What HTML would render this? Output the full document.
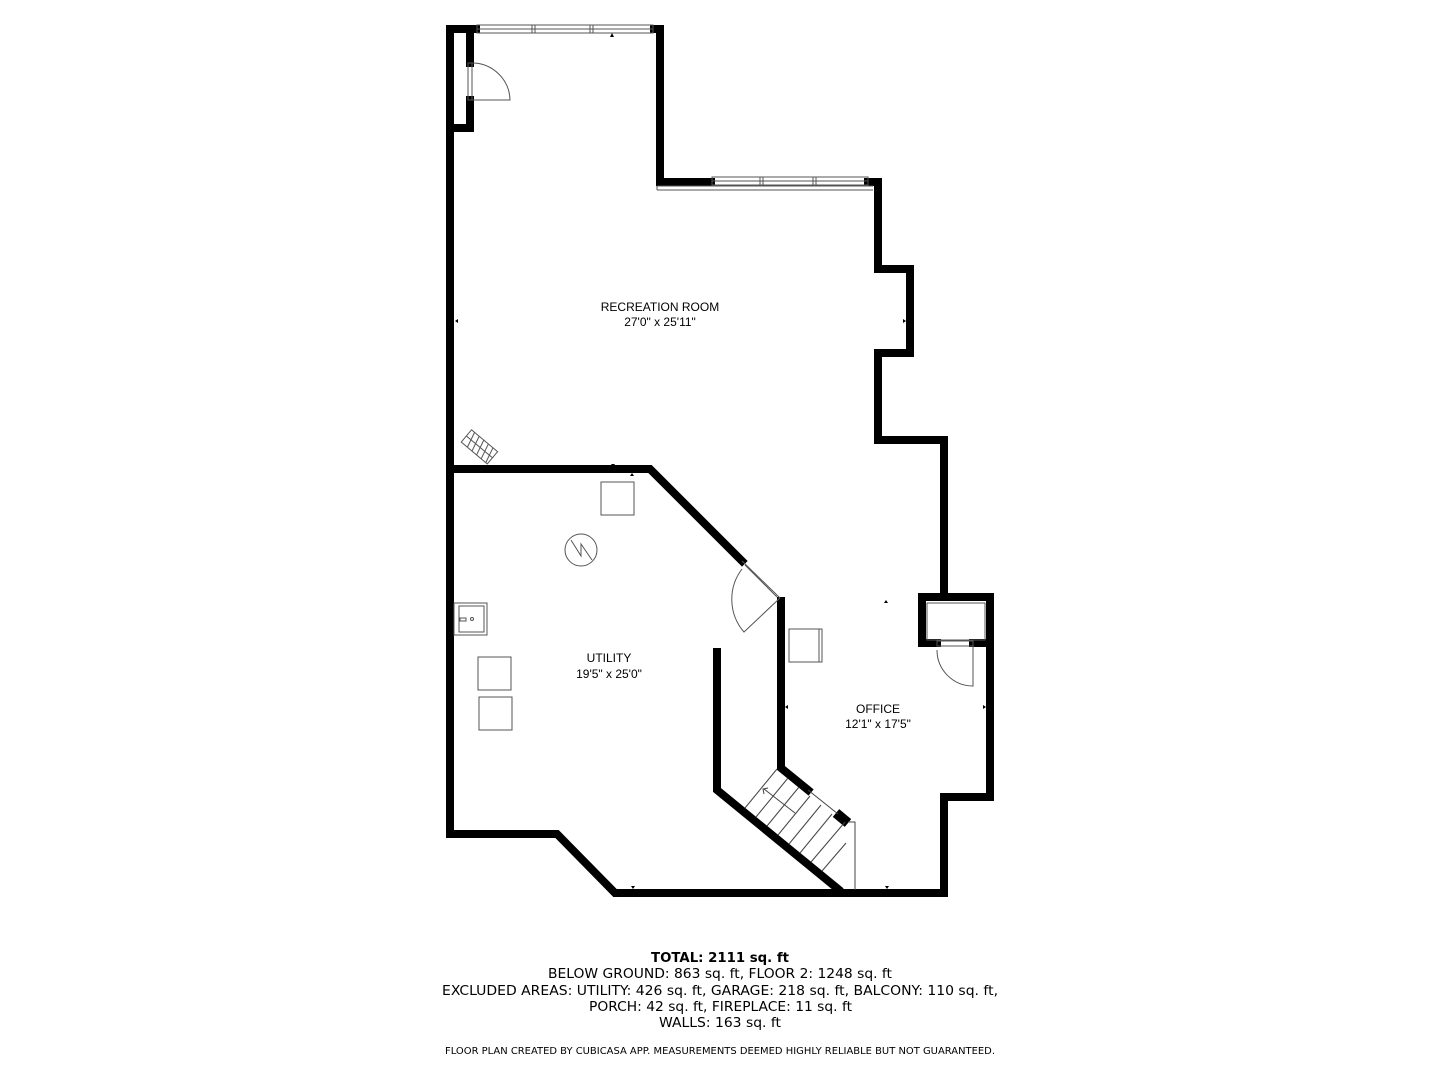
<!DOCTYPE html>
<html><head><meta charset="utf-8"><style>
html,body{margin:0;padding:0;background:#fff;}
svg{display:block;}
text{font-family:"Liberation Sans","DejaVu Sans",sans-serif;fill:#000;}
</style></head><body>
<svg width="1440" height="1080" viewBox="0 0 1440 1080" xmlns="http://www.w3.org/2000/svg">
<g fill="none" stroke="#000" stroke-width="8" stroke-linejoin="miter" stroke-linecap="square">
  <polyline points="450,29 450,834 557,834 615,893 944,893 944,797 990,797 990,597 944,597 944,440 878,440 878,353 910,353 910,269 878,269 878,182 868,182"/>
  <polyline points="711,182 660,182 660,29 654,29"/>
  <polyline points="476,29 450,29"/>
  <polyline points="450,128 470,128 470,100"/>
  <polyline points="470,63 470,33"/>
  <polyline points="454,469 650,469 742,561"/>
  <polyline points="781,601 781,768 808,790"/>
  <polyline points="717,652 717,790 838,889"/>
  <polyline points="944,597 922,597 922,643 937,643"/>
  <polyline points="973,643 990,643"/>
</g>
<g stroke="#000" stroke-width="10" stroke-linecap="butt"><line x1="836" y1="813" x2="848" y2="823"/></g>
<g fill="none" stroke="#555" stroke-width="1">
  <rect x="477" y="25" width="176" height="8"/>
  <line x1="477" y1="29" x2="653" y2="29"/>
  <line x1="532" y1="25" x2="532" y2="33"/><line x1="535" y1="25" x2="535" y2="33"/>
  <line x1="590" y1="25" x2="590" y2="33"/><line x1="593" y1="25" x2="593" y2="33"/>
  <rect x="712" y="177" width="156" height="8"/>
  <line x1="712" y1="181" x2="868" y2="181"/>
  <line x1="760" y1="177" x2="760" y2="185"/><line x1="763" y1="177" x2="763" y2="185"/>
  <line x1="813" y1="177" x2="813" y2="185"/><line x1="816" y1="177" x2="816" y2="185"/>
  <line x1="657" y1="186" x2="873" y2="186"/><line x1="657" y1="186" x2="657" y2="190"/><line x1="657" y1="190" x2="873" y2="190"/>
  <rect x="468" y="63" width="4" height="37"/>
  <path d="M472,63 A38,38 0 0 1 510,100 L472,100"/>
  <path d="M742,561 L780,598 M780,598 L744,632 A50,50 0 0 1 742,569"/>
  <line x1="745" y1="565" x2="777" y2="597"/>
  <rect x="937" y="641" width="36" height="5"/>
  <path d="M973,646 L973,686 A36,36 0 0 1 937,650"/>
  <g stroke="#444">
    <line x1="745" y1="808" x2="777" y2="769"/>
    <line x1="756" y1="817" x2="788" y2="778"/>
    <line x1="767" y1="826" x2="799" y2="787"/>
    <line x1="778" y1="835" x2="810" y2="796"/>
    <line x1="789" y1="844" x2="821" y2="805"/>
    <line x1="800" y1="853" x2="832" y2="814"/>
    <line x1="811" y1="862" x2="845" y2="822"/>
    <line x1="822" y1="871" x2="846" y2="843"/>
    <line x1="808" y1="790" x2="838" y2="814"/>
    <polyline points="848,822 855,822 855,890"/>
    <line x1="764" y1="789" x2="795" y2="813"/>
    <polyline points="768,788 763,789 764,794"/>
  </g>
  <g transform="rotate(40 478 447)">
    <rect x="462" y="438" width="34" height="16"/>
    <line x1="462" y1="446" x2="496" y2="446"/>
    <line x1="466" y1="438" x2="470" y2="454"/><line x1="472" y1="438" x2="476" y2="454"/><line x1="478" y1="438" x2="482" y2="454"/><line x1="484" y1="438" x2="488" y2="454"/><line x1="490" y1="438" x2="494" y2="454"/>
  </g>
  <rect x="601" y="482" width="33" height="33"/>
  <circle cx="581" cy="550" r="16"/>
  <polyline points="571,540 581,556 581,544 592,560"/>
  <rect x="454" y="603" width="33" height="32"/>
  <rect x="459" y="606" width="25" height="26"/>
  <rect x="460" y="618" width="6" height="3"/>
  <circle cx="472" cy="619" r="1.5"/>
  <rect x="478" y="657" width="33" height="33"/>
  <rect x="479" y="697" width="33" height="33"/>
  <rect x="789" y="629" width="33" height="33"/>
  <line x1="819" y1="629" x2="819" y2="662"/>
  <rect x="927" y="603" width="58" height="37"/>
</g>
<g fill="#000">
  <polygon points="612,33 614,37 610,37"/>
  <polygon points="455,321 458,319 458,323"/>
  <polygon points="906,321 903,319 903,323"/>
  <polygon points="886,600 888,603 884,603"/>
  <polygon points="777,625 780,623 780,627"/>
  <polygon points="785,707 788,705 788,709"/>
  <polygon points="986,707 983,705 983,709"/>
  <polygon points="887,889 889,886 885,886"/>
  <polygon points="633,889 635,886 631,886"/>
  <polygon points="613,467 615,464 611,464"/>
  <polygon points="632,473 634,476 630,476"/>
</g>
<g font-size="12" text-anchor="middle">
  <text x="660" y="311">RECREATION ROOM</text>
  <text x="660" y="326">27'0" x 25'11"</text>
  <text x="609" y="662">UTILITY</text>
  <text x="609" y="678">19'5" x 25'0"</text>
  <text x="878" y="713">OFFICE</text>
  <text x="878" y="728">12'1" x 17'5"</text>
</g>
<g style="font-family:'DejaVu Sans',sans-serif" font-size="13.5">
  <text x="651" y="962" font-weight="bold" textLength="138" lengthAdjust="spacingAndGlyphs" style="font-family:'DejaVu Sans',sans-serif">TOTAL: 2111 sq. ft</text>
  <text x="548" y="978" textLength="344" lengthAdjust="spacingAndGlyphs" style="font-family:'DejaVu Sans',sans-serif">BELOW GROUND: 863 sq. ft, FLOOR 2: 1248 sq. ft</text>
  <text x="442" y="995" textLength="556" lengthAdjust="spacingAndGlyphs" style="font-family:'DejaVu Sans',sans-serif">EXCLUDED AREAS: UTILITY: 426 sq. ft, GARAGE: 218 sq. ft, BALCONY: 110 sq. ft,</text>
  <text x="589" y="1011" textLength="263" lengthAdjust="spacingAndGlyphs" style="font-family:'DejaVu Sans',sans-serif">PORCH: 42 sq. ft, FIREPLACE: 11 sq. ft</text>
  <text x="659" y="1027" textLength="122" lengthAdjust="spacingAndGlyphs" style="font-family:'DejaVu Sans',sans-serif">WALLS: 163 sq. ft</text>
  <text x="445" y="1054" font-size="9.5" textLength="550" lengthAdjust="spacingAndGlyphs" style="font-family:'DejaVu Sans',sans-serif">FLOOR PLAN CREATED BY CUBICASA APP. MEASUREMENTS DEEMED HIGHLY RELIABLE BUT NOT GUARANTEED.</text>
</g>
</svg>
</body></html>
